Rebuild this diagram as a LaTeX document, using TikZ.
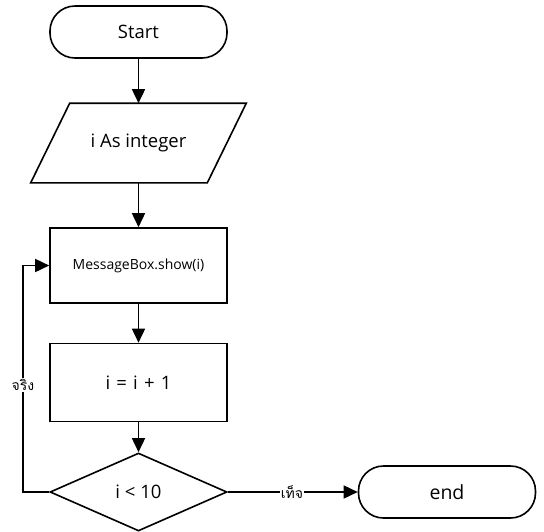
\documentclass[tikz,border=0pt]{standalone}
\usepackage{fontspec}
\setmainfont{Open Sans}
\newfontfamily\thaifont[Script=Thai]{Loma}
\usetikzlibrary{arrows.meta,shapes.geometric}
\begin{document}
\begin{tikzpicture}[x=1pt,y=-1pt,
  line width=1.6pt,
  big/.style={font=\fontsize{18.5}{22}\selectfont},
  term/.style={draw, rounded corners=25pt, minimum width=177pt, minimum height=52pt, inner sep=0pt, big},
  proc/.style={draw, minimum width=177pt, inner sep=0pt, big},
  arr/.style={-{Triangle[length=14pt,width=13pt]}},
  lbl/.style={fill=white, inner sep=1pt, font=\thaifont\fontsize{14}{16}\selectfont}]
\useasboundingbox (0,0) rectangle (544,531);
\node[term] (start) at (138.5,32) {Start};
\node[minimum width=175pt, minimum height=78pt, inner sep=0pt, big] (decl) at (138.5,143) {i As integer};
\draw ([xshift=19.5pt]decl.north west) -- ([xshift=19.5pt]decl.north east) -- ([xshift=-19.5pt]decl.south east) -- ([xshift=-19.5pt]decl.south west) -- cycle;
\node[proc, minimum height=75pt, font=\fontsize{14}{17}\selectfont] (msg) at (138.5,265.5) {MessageBox.show(i)};
\node[proc, minimum height=78pt] (inc) at (138.5,382.5) {i\,\,=\,\,i\,\,+\,\,1};
\node[draw, diamond, minimum width=177pt, minimum height=78pt, aspect=2.27, inner sep=0pt, big] (cond) at (138.5,492) {i < 10};
\node[term, font=\fontsize{19.5}{23}\selectfont] (end) at (447,492) {end};
\coordinate (lc) at (23,492);
\coordinate (lt) at (23,265.5);
\draw[arr] (start) -- (decl);
\draw[arr] (decl) -- (msg);
\draw[arr] (msg) -- (inc);
\draw[arr] (inc) -- (cond);
\draw[arr] (cond.west) -- (lc) -- (lt) -- (msg.west);
\draw[arr] (cond.east) -- (end.west);
\node[lbl] (t) at (23,385) {จริง};
\node[lbl] (f) at (292,492) {เท็จ};
\end{tikzpicture}
\end{document}
